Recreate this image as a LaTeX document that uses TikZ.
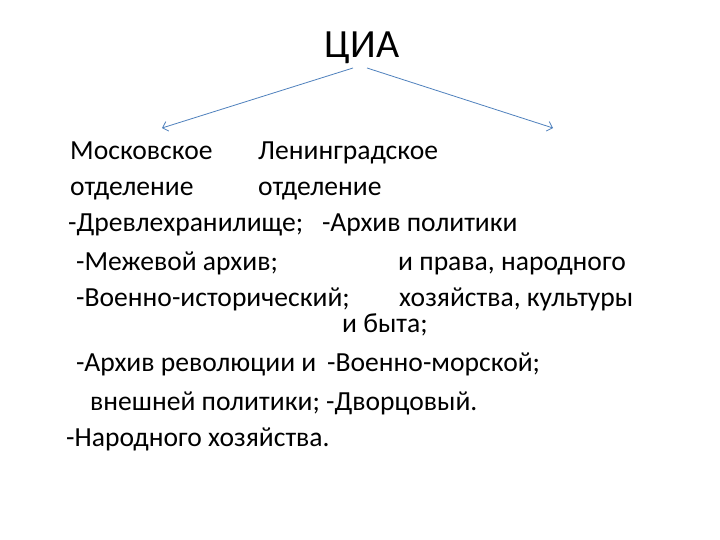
\documentclass[tikz,border=0pt]{standalone}
\usepackage{fontspec}
\setmainfont{Carlito}
\usetikzlibrary{arrows.meta}
\definecolor{arrowblue}{HTML}{4F81BD}
\tikzset{
  body/.style={anchor=base west, inner sep=0pt, font=\fontsize{27.6}{30}\selectfont},
  conn/.style={draw=arrowblue, line width=0.8pt, -{Straight Barb[length=5pt,width=10pt]}}
}
\begin{document}
\begin{tikzpicture}[x=1pt,y=-1pt]
\path[use as bounding box, fill=white] (0,0) rectangle (720,540);
\node[anchor=base, inner sep=0pt, font=\fontsize{40}{44}\selectfont] (title) at (362,58) {ЦИА};
\coordinate (ls) at (353,68);
\coordinate (rs) at (367,68);
\coordinate (le) at (162,128);
\coordinate (re) at (553,128);
\draw[conn] (ls) -- (le);
\draw[conn] (rs) -- (re);
\node[body] (m1) at (70,160) {Московское};
\node[body] (l1) at (258,160) {Ленинградское};
\node[body] (m2) at (70,196) {отделение};
\node[body] (l2) at (258,196) {отделение};
\node[body] (m3) at (68,232) {-Древлехранилище;};
\node[body] (l3) at (322,232) {-Архив политики};
\node[body] (m4) at (76,270) {-Межевой архив;};
\node[body] (l4) at (398,270) {и права, народного};
\node[body] (m5) at (76,306) {-Военно-исторический;};
\node[body] (l5) at (399,306) {хозяйства, культуры};
\node[body] (l6) at (342,332) {и быта;};
\node[body] (m6) at (76,371) {-Архив революции и};
\node[body] (l7) at (327,371) {-Военно-морской;};
\node[body] (m7) at (90,410) {внешней политики;};
\node[body] (l8) at (326,410) {-Дворцовый.};
\node[body] (m8) at (66,446) {-Народного хозяйства.};
\end{tikzpicture}
\end{document}
